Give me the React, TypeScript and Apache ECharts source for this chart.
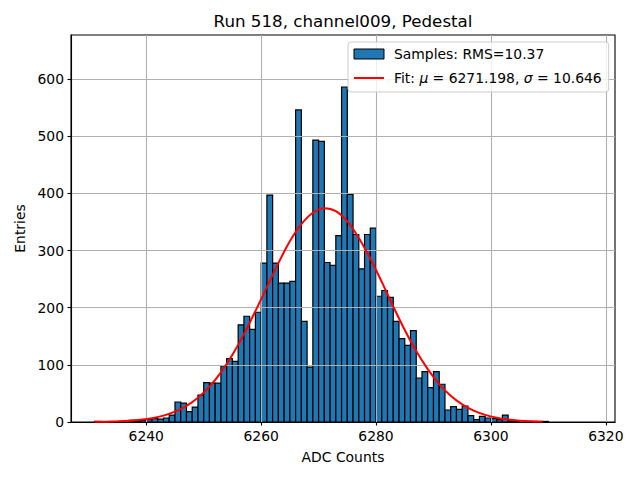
import React, { useEffect, useRef } from "react";
import * as echarts from "echarts";

const TITLE = "Run 518, channel009, Pedestal";
const X_NAME = "ADC Counts";
const Y_NAME = "Entries";
const SAMPLES_LABEL = "Samples: RMS=10.37";
const FIT_MU = "6271.198";
const FIT_SIGMA = "10.646";
const FIT_LABEL = `Fit: μ = ${FIT_MU}, σ = ${FIT_SIGMA}`;

const X_TICKS = [6240, 6260, 6280, 6300, 6320];
const Y_TICKS = [0, 100, 200, 300, 400, 500, 600];

// histogram: bins of width 1 starting at FIRST_BIN
const FIRST_BIN = 6231;
const BIN_WIDTH = 1;
const COUNTS = [
  1, 0, 0, 0, 0, 0, 3, 2, 3, 4, // 6231-6240
  6, 5, 7, 12, 35, 33, 18, 26, 47, 69, // 6241-6250
  68, 68, 98, 111, 106, 170, 185, 162, 192, 278, // 6251-6260
  397, 278, 243, 243, 246, 546, 176, 96, 493, 491, // 6261-6270
  279, 274, 326, 586, 398, 328, 268, 328, 339, 220, // 6271-6280
  230, 218, 176, 146, 134, 160, 77, 88, 60, 88, // 6281-6290
  66, 21, 27, 22, 28, 11, 4, 10, 7, 6, // 6291-6300
  4, 12, 2, 1, 0, 0, 1, 0, 1, // 6301-6309
];
const BIN_LEFT = COUNTS.map((_, i) => FIRST_BIN + i * BIN_WIDTH);

// fit curve, every 2 ADC counts from 6231 to 6309
const FIT_X_START = 6231;
const FIT_X_STEP = 2;
const FIT_Y = [
  0.3, 0.6, 1.2, 2.1, 3.9, 6.7, 11.2, 18.1, 28.3, 42.5,
  61.8, 86.8, 117.6, 153.7, 194, 236, 278, 316, 346, 366,
  374, 369, 351, 322, 286, 245, 202, 161, 124, 92.5,
  66.4, 46, 30.8, 19.8, 12.4, 7.4, 4.3, 2.4, 1.3, 0.7,
];
const FIT_X = FIT_Y.map((_, i) => FIT_X_START + i * FIT_X_STEP);

const FONT = "DejaVu Sans";
const FS = 13.9;

export default function App() {
  const ref = useRef<HTMLDivElement>(null);
  useEffect(() => {
    if (!ref.current) return;
    const chart = echarts.init(ref.current, undefined, { renderer: "svg" });
    const option: any = {
      animation: false,
      backgroundColor: "#ffffff",
      textStyle: { fontFamily: FONT },
      grid: {
        left: 71,
        right: 25,
        top: 35,
        bottom: 58,
        show: true,
        borderColor: "#000000",
        borderWidth: 1.1,
        backgroundColor: "transparent",
      },
      graphic: [
        {
          type: "text",
          x: 343,
          y: 21,
          style: {
            text: TITLE,
            textAlign: "center",
            textVerticalAlign: "middle",
            fontFamily: FONT,
            fontSize: 16.7,
            fill: "#000000",
          },
        },
      ],
      legend: {
        orient: "vertical",
        left: 348,
        top: 42,
        padding: [5, 7, 7, 5],
        itemGap: 10,
        itemWidth: 30,
        itemHeight: 10,
        selectedMode: false,
        backgroundColor: "rgba(255,255,255,0.8)",
        borderColor: "#cccccc",
        borderWidth: 1,
        borderRadius: 3,
        z: 10,
        textStyle: {
          fontFamily: FONT,
          fontSize: FS,
          color: "#000000",
          padding: [0, 0, 0, 5],
          rich: {
            n: { fontFamily: FONT, fontSize: FS, color: "#000000" },
            i: { fontFamily: FONT, fontSize: FS, color: "#000000", fontStyle: "italic" },
          },
        },
        formatter: (name: string) =>
          name === FIT_LABEL
            ? `{n|Fit: }{i|μ}{n| = ${FIT_MU}, }{i|σ}{n| = ${FIT_SIGMA}}`
            : name,
        data: [
          {
            name: SAMPLES_LABEL,
            icon: "rect",
            itemStyle: { color: "#1f77b4", borderColor: "#000000", borderWidth: 1 },
          },
          {
            name: FIT_LABEL,
            itemStyle: { color: "rgba(0,0,0,0)", borderColor: "rgba(0,0,0,0)", borderWidth: 0, opacity: 0 },
            lineStyle: { color: "#ff0000", width: 2 },
          },
        ],
      },
      xAxis: {
        type: "value",
        min: 6226.9,
        max: 6321.6,
        z: 3,
        name: X_NAME,
        nameLocation: "middle",
        nameGap: 28,
        nameTextStyle: { fontFamily: FONT, fontSize: FS, color: "#000000" },
        axisLine: { show: true, onZero: false, lineStyle: { color: "#000000", width: 1.1 } },
        axisTick: { show: true, length: 3.5, customValues: X_TICKS, lineStyle: { color: "#000000", width: 1.1 } },
        axisLabel: {
          customValues: X_TICKS,
          margin: 7,
          fontFamily: FONT,
          fontSize: FS,
          color: "#000000",
          formatter: (v: number) => String(v),
        },
        splitLine: { show: true, lineStyle: { color: "#b0b0b0", width: 1.1 } },
      },
      yAxis: {
        type: "value",
        min: 0,
        max: 677,
        z: 3,
        name: Y_NAME,
        nameLocation: "middle",
        nameGap: 43,
        nameRotate: 90,
        nameTextStyle: { fontFamily: FONT, fontSize: FS, color: "#000000" },
        axisLine: { show: true, lineStyle: { color: "#000000", width: 1.1 } },
        axisTick: { show: true, length: 3.5, customValues: Y_TICKS, lineStyle: { color: "#000000", width: 1.1 } },
        axisLabel: {
          customValues: Y_TICKS,
          margin: 7,
          fontFamily: FONT,
          fontSize: FS,
          color: "#000000",
          formatter: (v: number) => String(v),
        },
        splitLine: { show: true, lineStyle: { color: "#b0b0b0", width: 1.1 } },
      },
      series: [
        {
          name: SAMPLES_LABEL,
          type: "custom",
          z: 2,
          itemStyle: { color: "#1f77b4", borderColor: "#000000", borderWidth: 1 },
          encode: { x: 0, y: 1 },
          data: BIN_LEFT.map((b, i) => [b, COUNTS[i]]),
          renderItem: (params: any, api: any) => {
            const x0 = api.value(0);
            const y = api.value(1);
            if (!y) return null;
            const p0 = api.coord([x0, 0]);
            const p1 = api.coord([x0 + BIN_WIDTH, y]);
            return {
              type: "rect",
              shape: { x: p0[0], y: p1[1], width: p1[0] - p0[0], height: p0[1] - p1[1] },
              style: { fill: "#1f77b4", stroke: "#000000", lineWidth: 1.2 },
            };
          },
        },
        {
          name: FIT_LABEL,
          type: "line",
          z: 5,
          showSymbol: false,
          symbol: "none",
          smooth: 0.3,
          lineStyle: { color: "#ff0000", width: 2 },
          itemStyle: { color: "#ff0000" },
          data: FIT_X.map((x, i) => [x, FIT_Y[i]]),
        },
      ],
    };
    chart.setOption(option);
    return () => chart.dispose();
  }, []);
  return (
    <div
      ref={ref}
      style={{ position: "fixed", left: 0, top: 0, width: 640, height: 480, background: "#fff" }}
    />
  );
}
